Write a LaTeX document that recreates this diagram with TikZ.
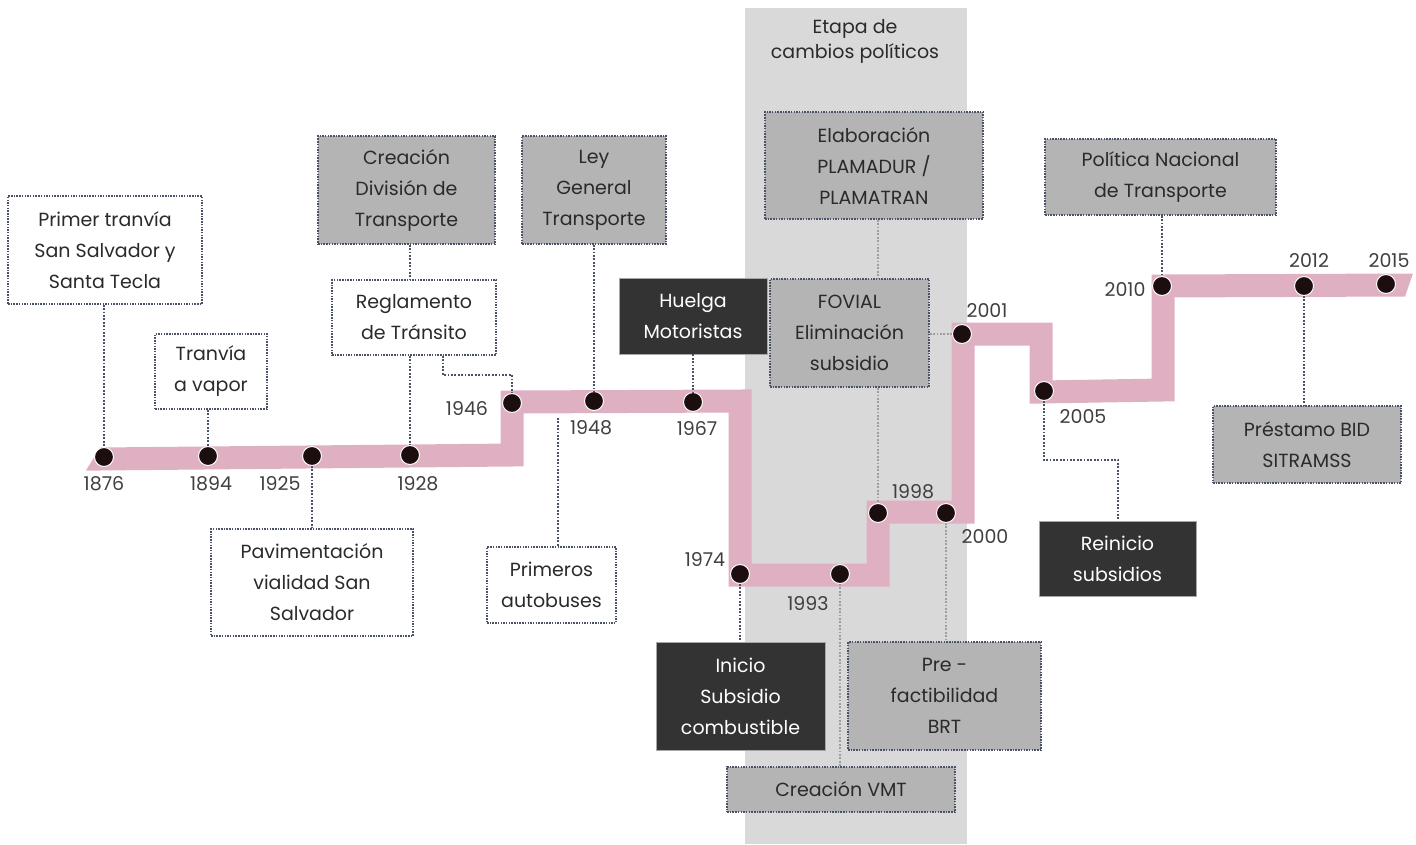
\documentclass[tikz,border=0pt]{standalone}
\usepackage{fontspec}
\setmainfont{Poppins}
\definecolor{bandgrey}{HTML}{D9D9D9}
\definecolor{pinkline}{HTML}{DFAFC2}
\definecolor{boxgrey}{HTML}{B4B4B4}
\definecolor{boxdark}{HTML}{333333}
\definecolor{slate}{HTML}{4A5268}
\definecolor{softline}{HTML}{9E9E9E}
\definecolor{ink}{HTML}{2A2A2A}
\definecolor{dotfill}{HTML}{1C0E0E}
\begin{document}
\begin{tikzpicture}[x=1pt,y=-1pt,
  every node/.style={font=\fontsize{19}{31}\selectfont, text=ink, align=center},
  wbox/.style={draw=slate, line width=1.4, dash pattern=on 1.5pt off 1.2pt, fill=white, inner sep=0},
  gbox/.style={wbox, fill=boxgrey},
  dbox/.style={draw=gray!70, line width=0.8, fill=boxdark, text=white, inner sep=0},
  evdot/.style={circle, minimum size=19, inner sep=0, fill=dotfill, draw=white, line width=1},
  year/.style={text=ink!90},
  conn/.style={draw=slate, line width=1.8, dash pattern=on 1.8pt off 1.6pt},
  softconn/.style={draw=softline, line width=1.8, dash pattern=on 1.8pt off 1.6pt}]
\useasboundingbox (0,0) rectangle (1416,844);

% political-change period band
\fill[bandgrey] (745,8) rectangle (967,844);
\node[font=\fontsize{19}{25}\selectfont] (etapa) at (855,41) {Etapa de\\cambios políticos};

% pink timeline ribbon
\draw[pinkline, line width=23, line join=miter]
  (100,459) -- (512,455) -- (512,402) -- (740,401) -- (740,575) -- (878,575)
  -- (878,512) -- (963,512) -- (963,334) -- (1041,334) -- (1041,392)
  -- (1163,390) -- (1163,286) -- (1405,285);
\fill[pinkline] (100,447.5) -- (86,470.5) -- (100,470.5) -- cycle;
\fill[pinkline] (1405,273.5) -- (1413,273.5) -- (1405,296.5) -- cycle;

% event boxes
\node[wbox, minimum width=194, minimum height=108] (b1) at (105,250) {Primer tranvía\\San Salvador y\\Santa Tecla};
\node[wbox, minimum width=112, minimum height=75] (b2) at (211,371.5) {Tranvía\\a vapor};
\node[wbox, minimum width=164, minimum height=75] (b3) at (414,317.5) {Reglamento\\de Tránsito};
\node[gbox, minimum width=177, minimum height=108] (b4) at (406.5,190) {Creación\\División de\\Transporte};
\node[gbox, minimum width=144, minimum height=108] (b5) at (594,190) {Ley\\General\\Transporte};
\node[dbox, minimum width=148, minimum height=76] (b6) at (693,316) {Huelga\\Motoristas};
\node[gbox, minimum width=218, minimum height=107] (b7) at (874,165.5) {Elaboración\\PLAMADUR /\\PLAMATRAN};
\node[gbox, minimum width=159, minimum height=108] (b8) at (849.5,333) {FOVIAL\\Eliminación\\subsidio};
\node[gbox, minimum width=231, minimum height=76] (b9) at (1160.5,177) {Política Nacional\\de Transporte};
\node[gbox, minimum width=188, minimum height=77] (b10) at (1307,444.5) {Préstamo BID\\SITRAMSS};
\node[dbox, minimum width=157, minimum height=75] (b11) at (1117.5,558.5) {Reinicio\\subsidios};
\node[wbox, minimum width=202, minimum height=107] (b12) at (312,582.5) {Pavimentación\\vialidad San\\Salvador};
\node[wbox, minimum width=129, minimum height=76] (b13) at (551.5,585) {Primeros\\autobuses};
\node[dbox, minimum width=169, minimum height=108] (b14) at (740.5,696) {Inicio\\Subsidio\\combustible};
\node[gbox, minimum width=193, minimum height=108] (b15) at (944.5,696) {Pre -\\factibilidad\\BRT};
\node[gbox, minimum width=228, minimum height=45] (b16) at (841,789.5) {Creación VMT};

% event dots
\node[evdot] (d1876) at (104,457) {};
\node[evdot] (d1894) at (208,456) {};
\node[evdot] (d1925) at (312,456) {};
\node[evdot] (d1928) at (410,455) {};
\node[evdot] (d1946) at (512,403) {};
\node[evdot] (d1948) at (594,401) {};
\node[evdot] (d1967) at (693,402) {};
\node[evdot] (d1974) at (740,574) {};
\node[evdot] (d1993) at (840,574) {};
\node[evdot] (d1998) at (878,513) {};
\node[evdot] (d2000) at (946,513) {};
\node[evdot] (d2001) at (962,334) {};
\node[evdot] (d2005) at (1044,391) {};
\node[evdot] (d2010) at (1162,286) {};
\node[evdot] (d2012) at (1304,286) {};
\node[evdot] (d2015) at (1386,284) {};

% year labels
\node[year] (y1876) at (104,484) {1876};
\node[year] (y1894) at (211,484) {1894};
\node[year] (y1925) at (280,484) {1925};
\node[year] (y1928) at (418,484) {1928};
\node[year] (y1946) at (467,408) {1946};
\node[year] (y1948) at (591,428) {1948};
\node[year] (y1967) at (697,428) {1967};
\node[year] (y1974) at (705,559) {1974};
\node[year] (y1993) at (808,604) {1993};
\node[year] (y1998) at (913,492) {1998};
\node[year] (y2000) at (985,536) {2000};
\node[year] (y2001) at (987,311) {2001};
\node[year] (y2005) at (1083,417) {2005};
\node[year] (y2010) at (1125,290) {2010};
\node[year] (y2012) at (1309,261) {2012};
\node[year] (y2015) at (1389,261) {2015};

% helper points for bent leaders
\coordinate (r1) at (443,375);
\coordinate (r2) at (1118,460);
\coordinate (pa) at (558,418);

% leaders
\draw[conn] (d1876 |- b1.south) -- (d1876.north);
\draw[conn] (d1894 |- b2.south) -- (d1894.north);
\draw[conn] (d1925.south) -- (d1925 |- b12.north);
\draw[conn] (d1928 |- b4.south) -- (d1928 |- b3.north);
\draw[conn] (d1928 |- b3.south) -- (d1928.north);
\draw[conn] (r1 |- b3.south) -- (r1) -| (d1946.north);
\draw[conn] (d1948 |- b5.south) -- (d1948.north);
\draw[conn] (pa) -- (pa |- b13.north);
\draw[conn] (d1967 |- b6.south) -- (d1967.north);
\draw[conn] (d1974.south) -- (d1974 |- b14.north);
\draw[softconn] (d1993.south) -- (d1993 |- b16.north);
\draw[softconn] (d1998 |- b7.south) -- (d1998 |- b8.north);
\draw[softconn] (d1998 |- b8.south) -- (d1998.north);
\draw[softconn] (b8.east |- d2001) -- (d2001.west);
\draw[softconn] (d2000.south) -- (d2000 |- b15.north);
\draw[conn] (d2005.south) |- (r2) -- (r2 |- b11.north);
\draw[conn] (d2010 |- b9.south) -- (d2010.north);
\draw[conn] (d2012.south) -- (d2012 |- b10.north);
\end{tikzpicture}
\end{document}
